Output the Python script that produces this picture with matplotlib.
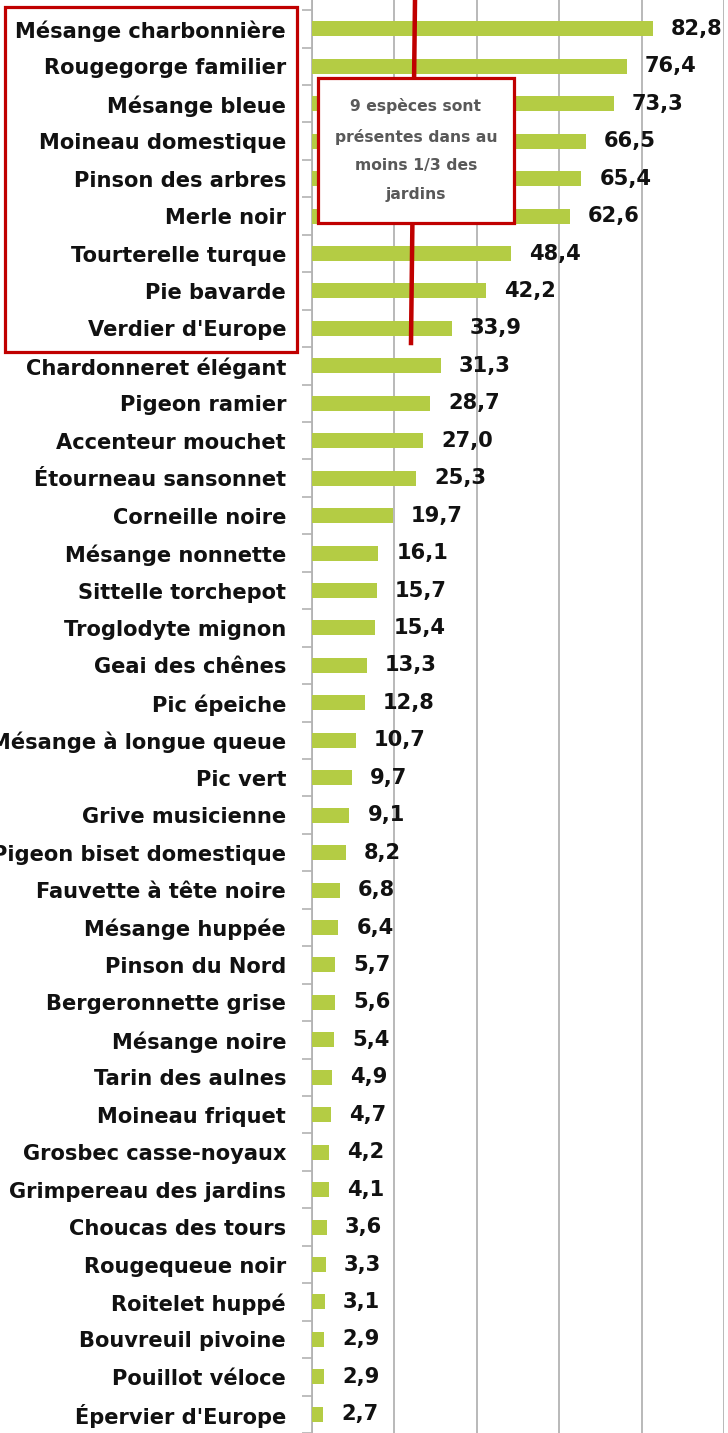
import matplotlib
matplotlib.use("Agg")
import matplotlib.pyplot as plt
from matplotlib.patches import Rectangle
from matplotlib.lines import Line2D
import numpy as np

species = [
    "Mésange charbonnière", "Rougegorge familier", "Mésange bleue", "Moineau domestique",
    "Pinson des arbres", "Merle noir", "Tourterelle turque", "Pie bavarde",
    "Verdier d'Europe", "Chardonneret élégant", "Pigeon ramier", "Accenteur mouchet",
    "Étourneau sansonnet", "Corneille noire", "Mésange nonnette", "Sittelle torchepot",
    "Troglodyte mignon", "Geai des chênes", "Pic épeiche", "Mésange à longue queue",
    "Pic vert", "Grive musicienne", "Pigeon biset domestique", "Fauvette à tête noire",
    "Mésange huppée", "Pinson du Nord", "Bergeronnette grise", "Mésange noire",
    "Tarin des aulnes", "Moineau friquet", "Grosbec casse-noyaux", "Grimpereau des jardins",
    "Choucas des tours", "Rougequeue noir", "Roitelet huppé", "Bouvreuil pivoine",
    "Pouillot véloce", "Épervier d'Europe",
]
values = [
    82.8, 76.4, 73.3, 66.5, 65.4, 62.6, 48.4, 42.2, 33.9, 31.3, 28.7, 27.0, 25.3,
    19.7, 16.1, 15.7, 15.4, 13.3, 12.8, 10.7, 9.7, 9.1, 8.2, 6.8, 6.4, 5.7, 5.6,
    5.4, 4.9, 4.7, 4.2, 4.1, 3.6, 3.3, 3.1, 2.9, 2.9, 2.7,
]
x_ticks = [0, 20, 40, 60, 80, 100]
note_text = "9 espèces sont\nprésentes dans au\nmoins 1/3 des\njardins"

W, H = 728, 1433
DPI = 100
FONT = "DejaVu Sans"
BAR = "#B4CC44"
RED = "#C00000"
GRID = "#B3B3B3"
TXT = "#111111"

fig = plt.figure(figsize=(W / DPI, H / DPI), dpi=DPI)
fig.patch.set_facecolor("white")

def px(v):
    return v * 72.0 / DPI

ax = fig.add_axes([312 / W, 0, (724 - 312) / W, 1])
n = len(species)
pos = np.arange(n)
ax.barh(pos, values, height=0.4, color=BAR, zorder=3)
ax.set_xlim(x_ticks[0], x_ticks[-1])
first_c, step = 29.0, 37.6
ax.set_ylim((H - first_c) / step, -first_c / step)

ax.set_xticks(x_ticks)
ax.xaxis.grid(True, color=GRID, linewidth=1.3, zorder=0)
ax.tick_params(axis="x", length=0, labelbottom=False)

LBL = px(21.0)
ax.set_yticks(pos)
ax.set_yticklabels(species, fontfamily=FONT, fontweight="bold", fontsize=LBL, color=TXT)
ax.tick_params(axis="y", which="major", length=0, pad=px(26))
ax.set_yticks(np.arange(-0.5, n, 1.0), minor=True)
ax.tick_params(axis="y", which="minor", length=px(10), width=1.2, color=GRID, direction="out")

for s in ["top", "right", "bottom"]:
    ax.spines[s].set_visible(False)
ax.spines["left"].set_color(GRID)
ax.spines["left"].set_linewidth(1.3)

for i, v in enumerate(values):
    ax.annotate(f"{v:.1f}".replace(".", ","), (v, i), xytext=(px(18), 0),
                textcoords="offset points", ha="left", va="center",
                fontfamily=FONT, fontweight="bold", fontsize=LBL, color=TXT,
                annotation_clip=False, zorder=4)

tr = fig.transFigure
def fx(x):
    return x / W
def fy(y):
    return 1 - y / H

fig.add_artist(Line2D([fx(415), fx(411)], [fy(0), fy(343)], color=RED, linewidth=px(4.5),
                      transform=tr, zorder=5))
fig.add_artist(Rectangle((fx(318), fy(223)), (514 - 318) / W, (223 - 78) / H, transform=tr,
                         facecolor="white", edgecolor=RED, linewidth=px(3.2), zorder=6))
fig.text(fx(416), fy(150), note_text, ha="center", va="center", ma="center",
         fontfamily=FONT, fontweight="bold", fontsize=px(15.6), color="#595959",
         linespacing=2.15, zorder=7)
fig.add_artist(Rectangle((fx(5), fy(352)), (297 - 5) / W, (352 - 7) / H, transform=tr,
                         facecolor="none", edgecolor=RED, linewidth=px(3.2), zorder=6))

fig.savefig("out.png", dpi=DPI, facecolor="white")
